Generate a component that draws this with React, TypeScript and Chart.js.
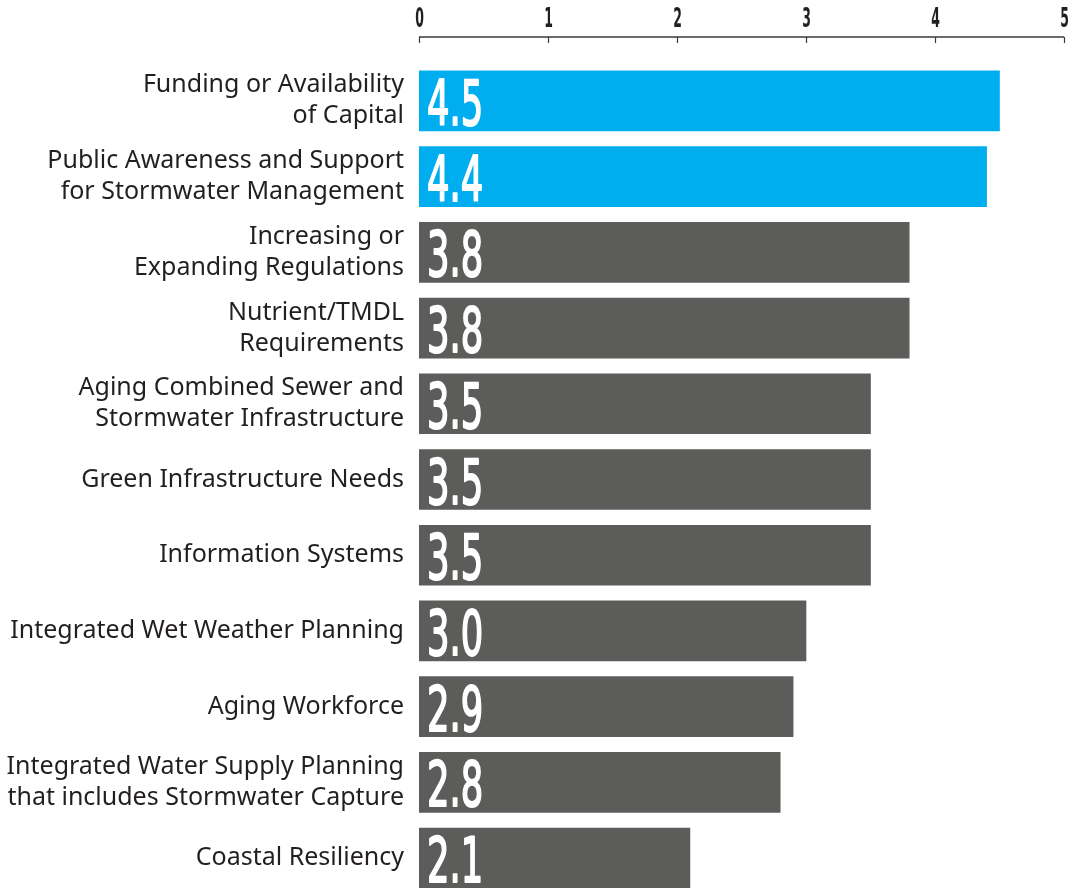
import React, { useEffect, useRef } from "react";
import { Chart, registerables } from "chart.js";

Chart.register(...registerables);

const categories: string[][] = [
  ["Funding or Availability", "of Capital"],
  ["Public Awareness and Support", "for Stormwater Management"],
  ["Increasing or", "Expanding Regulations"],
  ["Nutrient/TMDL", "Requirements"],
  ["Aging Combined Sewer and", "Stormwater Infrastructure"],
  ["Green Infrastructure Needs"],
  ["Information Systems"],
  ["Integrated Wet Weather Planning"],
  ["Aging Workforce"],
  ["Integrated Water Supply Planning", "that includes Stormwater Capture"],
  ["Coastal Resiliency"],
];
const values: number[] = [4.5, 4.4, 3.8, 3.8, 3.5, 3.5, 3.5, 3.0, 2.9, 2.8, 2.1];
const xTickValues: number[] = [0, 1, 2, 3, 4, 5];
const highlightCount = 2;

const BLUE = "#00aeef";
const GRAY = "#5c5d5b";
const TEXT = "#231f20";

function drawCondensed(
  ctx: CanvasRenderingContext2D,
  text: string,
  x: number,
  y: number,
  sx: number,
  align: CanvasTextAlign,
  stroke = 0
) {
  ctx.save();
  ctx.translate(x, y);
  ctx.scale(sx, 1);
  ctx.textAlign = align;
  ctx.fillText(text, 0, 0);
  if (stroke > 0) {
    ctx.lineWidth = stroke;
    ctx.lineJoin = "round";
    ctx.strokeText(text, 0, 0);
  }
  ctx.restore();
}

const customPlugin = {
  id: "custom",
  afterDraw(chart: any) {
    const ctx: CanvasRenderingContext2D = chart.ctx;
    const xs = chart.scales.x;
    const axisY = 37;
    const x0 = xs.getPixelForValue(xTickValues[0]);
    const x1 = xs.getPixelForValue(xTickValues[xTickValues.length - 1]);
    ctx.save();
    ctx.strokeStyle = "#3a3a3a";
    ctx.lineWidth = 1.5;
    ctx.beginPath();
    ctx.moveTo(x0, axisY);
    ctx.lineTo(x1, axisY);
    ctx.stroke();
    ctx.lineWidth = 1.2;
    ctx.fillStyle = TEXT;
    ctx.font = "bold 26px 'DejaVu Sans'";
    ctx.textBaseline = "alphabetic";
    xTickValues.forEach((v) => {
      const px = Math.round(xs.getPixelForValue(v)) + 0.5;
      ctx.beginPath();
      ctx.moveTo(px, axisY);
      ctx.lineTo(px, axisY + 6);
      ctx.stroke();
      drawCondensed(ctx, String(v), px, 27, 0.48, "center");
    });
    const meta = chart.getDatasetMeta(0);
    ctx.fillStyle = "#ffffff";
    ctx.strokeStyle = "#ffffff";
    ctx.font = "62px 'DejaVu Sans'";
    ctx.textBaseline = "alphabetic";
    meta.data.forEach((bar: any, i: number) => {
      const p = bar.getProps(["x", "y", "base"], true);
      drawCondensed(ctx, values[i].toFixed(1), p.base + 8, p.y + 24, 0.57, "left", 2);
    });
    ctx.restore();
  },
};

export default function App() {
  const ref = useRef<HTMLCanvasElement | null>(null);
  useEffect(() => {
    if (!ref.current) return;
    const chart = new Chart(ref.current, {
      type: "bar",
      data: {
        labels: categories,
        datasets: [
          {
            data: values,
            backgroundColor: values.map((_, i) => (i < highlightCount ? BLUE : GRAY)),
            barThickness: 60,
            borderWidth: 0,
          },
        ],
      },
      options: {
        indexAxis: "y",
        animation: false,
        responsive: true,
        maintainAspectRatio: false,
        layout: { padding: { top: 63, right: 6, bottom: 0, left: 0 } },
        plugins: { legend: { display: false }, tooltip: { enabled: false } },
        scales: {
          x: {
            display: false,
            min: 0,
            max: 5,
          },
          y: {
            grid: { display: false },
            border: { display: false },
            afterFit(scale: any) {
              scale.width = 419;
              scale.paddingTop = 0;
              scale.paddingBottom = 0;
            },
            ticks: {
              color: TEXT,
              padding: 7,
              font: { family: "'Noto Sans'", size: 25, lineHeight: 1.24 },
              autoSkip: false,
            },
          },
        },
      },
      plugins: [customPlugin],
    });
    return () => chart.destroy();
  }, []);
  return (
    <div
      style={{
        position: "fixed",
        left: 0,
        top: 0,
        width: 1070,
        height: 888,
        overflow: "hidden",
        background: "#fff",
      }}
    >
      <div style={{ position: "relative", width: 1070, height: 896 }}>
        <canvas ref={ref} />
      </div>
    </div>
  );
}
